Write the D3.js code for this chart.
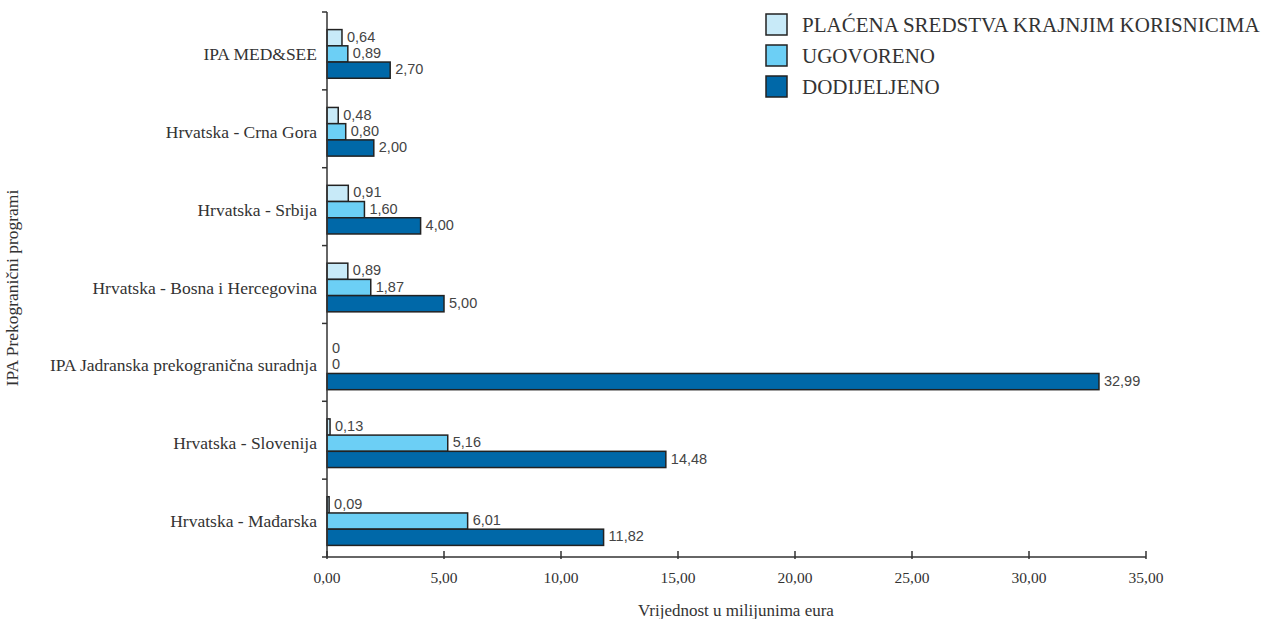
<!DOCTYPE html>
<html>
<head>
<meta charset="utf-8">
<script src="https://cdn.jsdelivr.net/npm/d3@7"></script>
<style>
  body { margin: 0; background: #fff; }
  .serif { font-family: "Liberation Serif", "DejaVu Serif", serif; fill: #333; }
  .num { font-family: "Liberation Sans", Arial, sans-serif; fill: #444; }
</style>
</head>
<body>
<div id="chart"></div>
<script>
var width = 1267;
var height = 619;

var categories = [
  "IPA MED&SEE",
  "Hrvatska - Crna Gora",
  "Hrvatska - Srbija",
  "Hrvatska - Bosna i Hercegovina",
  "IPA Jadranska prekogranična suradnja",
  "Hrvatska - Slovenija",
  "Hrvatska - Mađarska"
];
var seriesNames = ["PLAĆENA SREDSTVA KRAJNJIM KORISNICIMA", "UGOVORENO", "DODIJELJENO"];
var seriesColors = ["#c8eaf8", "#6ccff5", "#0068a8"];
var placeno = [0.64, 0.48, 0.91, 0.89, 0, 0.13, 0.09];
var ugovoreno = [0.89, 0.80, 1.60, 1.87, 0, 5.16, 6.01];
var dodijeljeno = [2.70, 2.00, 4.00, 5.00, 32.99, 14.48, 11.82];
var xTicks = [0, 5, 10, 15, 20, 25, 30, 35];

var series = [placeno, ugovoreno, dodijeljeno];
var fmt = (v) => v === 0 ? "0" : d3.format(".2f")(v).replace(".", ",");

var margin = { left: 327, right: 121, top: 12, bottom: 62 };

var svg = d3.select("#chart").append("svg")
  .attr("width", width)
  .attr("height", height);

var x = d3.scaleLinear().domain([0, 35]).range([margin.left, width - margin.right]);
var y = d3.scaleBand().domain(categories).range([margin.top, height - margin.bottom]);
var inner = d3.scaleBand().domain([0, 1, 2]).range([0, y.bandwidth()]).paddingInner(0).paddingOuter(0.9);

// bars
categories.forEach((cat, ci) => {
  series.forEach((vals, si) => {
    var v = vals[ci];
    var by = y(cat) + inner(si) + 3;
    var bh = inner.bandwidth();
    if (v > 0) {
      svg.append("rect")
        .attr("x", x(0))
        .attr("y", by)
        .attr("width", x(v) - x(0))
        .attr("height", bh)
        .attr("fill", seriesColors[si])
        .attr("stroke", "#222")
        .attr("stroke-width", 1.5);
    }
    svg.append("text")
      .attr("class", "num")
      .attr("x", x(v) + 5)
      .attr("y", by + bh / 2 - 1)
      .attr("dy", "0.35em")
      .style("font-size", "14.5px")
      .text(fmt(v));
  });
  svg.append("text")
    .attr("class", "serif")
    .attr("x", margin.left - 10)
    .attr("y", y(cat) + inner(1) + 3 + inner.bandwidth() / 2)
    .attr("dy", "0.35em")
    .attr("text-anchor", "end")
    .style("font-size", "17.5px")
    .text(cat);
});

// y axis
var yBottom = height - margin.bottom;
svg.append("line")
  .attr("x1", x(0)).attr("x2", x(0))
  .attr("y1", margin.top).attr("y2", yBottom)
  .attr("stroke", "#333").attr("stroke-width", 1.5);
var bounds = categories.map((c) => y(c)).concat([yBottom]);
svg.selectAll(".ytick").data(bounds).enter().append("line")
  .attr("x1", x(0) - 5).attr("x2", x(0))
  .attr("y1", (d) => d).attr("y2", (d) => d)
  .attr("stroke", "#333").attr("stroke-width", 1.5);

// x axis
svg.append("line")
  .attr("x1", x(0)).attr("x2", x(35))
  .attr("y1", yBottom).attr("y2", yBottom)
  .attr("stroke", "#333").attr("stroke-width", 1.5);
svg.selectAll(".xtick").data(xTicks).enter().append("line")
  .attr("x1", (d) => x(d)).attr("x2", (d) => x(d))
  .attr("y1", yBottom - 6).attr("y2", yBottom + 2)
  .attr("stroke", "#333").attr("stroke-width", 1.5);
svg.selectAll(".xlabel").data(xTicks).enter().append("text")
  .attr("class", "serif")
  .attr("x", (d) => x(d))
  .attr("y", yBottom + 26)
  .attr("text-anchor", "middle")
  .style("font-size", "15.5px")
  .text((d) => d3.format(".2f")(d).replace(".", ","));

// axis titles
svg.append("text")
  .attr("class", "serif")
  .attr("x", 736)
  .attr("y", 616)
  .attr("text-anchor", "middle")
  .style("font-size", "17px")
  .text("Vrijednost u milijunima eura");
svg.append("text")
  .attr("class", "serif")
  .attr("transform", "translate(18,288) rotate(-90)")
  .attr("text-anchor", "middle")
  .style("font-size", "17.5px")
  .text("IPA Prekogranični programi");

// legend
var legend = svg.append("g").attr("transform", "translate(766,14)");
seriesNames.forEach((name, i) => {
  var g = legend.append("g").attr("transform", `translate(0,${i * 31})`);
  g.append("rect")
    .attr("width", 21).attr("height", 21)
    .attr("fill", seriesColors[i])
    .attr("stroke", "#222").attr("stroke-width", 1.5);
  g.append("text")
    .attr("class", "serif")
    .attr("x", 36)
    .attr("y", 11)
    .attr("dy", "0.35em")
    .style("font-size", "21px")
    .text(name);
});
</script>
</body>
</html>
